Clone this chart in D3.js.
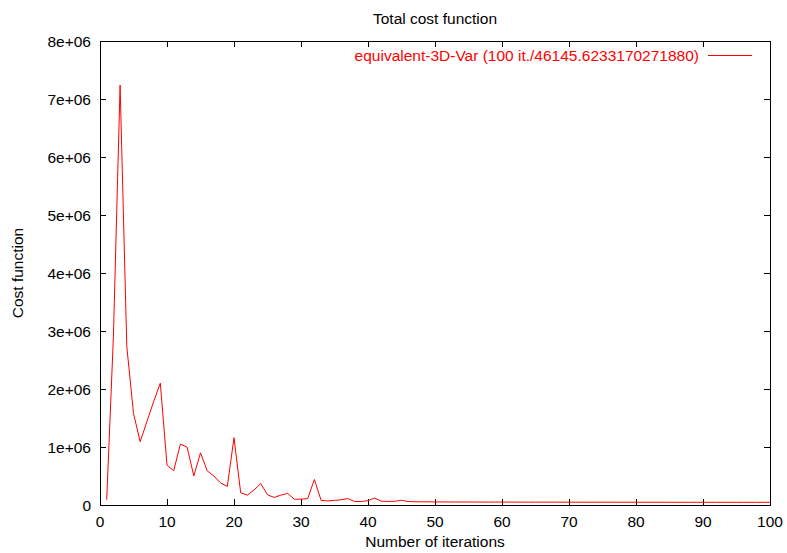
<!DOCTYPE html>
<html>
<head>
<meta charset="utf-8">
<script src="https://cdn.jsdelivr.net/npm/d3@7/dist/d3.min.js"></script>
<style>
  body { margin: 0; background: #fff; }
  text { font-family: "Liberation Sans", Arial, sans-serif; font-size: 15.5px; fill: #000; }
</style>
</head>
<body>
<script>
const iterations = d3.range(1, 101)

// cost per iteration
const costValues = [
  90000, 2900000, 7240000, 2730000, 1580000, 1090000, 1440000, 1780000, 2100000, 690000,
  590000, 1050000, 1000000, 500000, 900000, 590000, 500000, 380000, 320000, 1160000,
  210000, 170000, 260000, 370000, 175000, 130000, 170000, 200000, 100000, 100000,
  110000, 440000, 80000, 70000, 80000, 90000, 110000, 60000, 60000, 75000,
  120000, 65000, 62000, 64000, 82000, 60000, 56000, 55000, 54000, 53000,
  52500, 52000, 51800, 51500, 51300, 51000, 50800, 50600, 50400, 50200,
  50000, 49800, 49600, 49500, 49300, 49100, 49000, 48800, 48700, 48600,
  48500, 48400, 48300, 48200, 48100, 48000, 47900, 47800, 47700, 47600,
  47500, 47400, 47300, 47200, 47100, 47000, 46950, 46900, 46850, 46800,
  46700, 46600, 46550, 46500, 46450, 46400, 46300, 46250, 46200, 46145.62
]

const xTicks = [0, 10, 20, 30, 40, 50, 60, 70, 80, 90, 100]
const yTicks = [0, 1e6, 2e6, 3e6, 4e6, 5e6, 6e6, 7e6, 8e6]
const yTickLabels = ["0", "1e+06", "2e+06", "3e+06", "4e+06", "5e+06", "6e+06", "7e+06", "8e+06"]

const seriesLabel = "equivalent-3D-Var (100 it./46145.6233170271880)"

const W = 787, H = 553
const plotLeft = 100, plotRight = 770, plotTop = 41, plotBottom = 505
const tickLen = 6

const svg = d3.select("body").append("svg")
  .attr("width", W)
  .attr("height", H)

const x = d3.scaleLinear().domain([0, 100]).range([plotLeft, plotRight])
const y = d3.scaleLinear().domain([0, 8e6]).range([plotBottom, plotTop])

// frame
svg.append("rect")
  .attr("x", plotLeft + 0.5).attr("y", plotTop + 0.5)
  .attr("width", plotRight - plotLeft).attr("height", plotBottom - plotTop)
  .attr("fill", "none").attr("stroke", "#000").attr("stroke-width", 1)

// ticks, gnuplot style: inward and mirrored
const g = svg.append("g").attr("stroke", "#000").attr("stroke-width", 1)
xTicks.forEach(t => {
  const px = Math.round(x(t)) + 0.5
  g.append("line").attr("x1", px).attr("x2", px).attr("y1", plotBottom).attr("y2", plotBottom - tickLen)
  g.append("line").attr("x1", px).attr("x2", px).attr("y1", plotTop).attr("y2", plotTop + tickLen)
})
yTicks.forEach(t => {
  const py = Math.round(y(t)) + 0.5
  g.append("line").attr("x1", plotLeft).attr("x2", plotLeft + tickLen).attr("y1", py).attr("y2", py)
  g.append("line").attr("x1", plotRight).attr("x2", plotRight - tickLen).attr("y1", py).attr("y2", py)
})

svg.append("g").selectAll("text")
  .data(xTicks)
  .enter().append("text")
  .attr("x", d => x(d))
  .attr("y", 527)
  .attr("text-anchor", "middle")
  .text(d => d)

svg.append("g").selectAll("text")
  .data(yTicks)
  .enter().append("text")
  .attr("x", 91)
  .attr("y", d => y(d) + 5.5)
  .attr("text-anchor", "end")
  .text((d, i) => yTickLabels[i])

// titles
svg.append("text").attr("x", 435).attr("y", 24).attr("text-anchor", "middle").text("Total cost function")
svg.append("text").attr("x", 435).attr("y", 547).attr("text-anchor", "middle").text("Number of iterations")
svg.append("text")
  .attr("transform", "translate(23,273)rotate(-90)")
  .attr("text-anchor", "middle")
  .text("Cost function")

// series line
const line = d3.line()
  .x((d, i) => x(iterations[i]))
  .y(d => y(d))

svg.append("path")
  .datum(costValues)
  .attr("d", line)
  .attr("fill", "none")
  .attr("stroke", "#ff0000")
  .attr("stroke-width", 1)

// legend
svg.append("text")
  .attr("x", 699).attr("y", 61)
  .attr("text-anchor", "end")
  .style("fill", "#ff0000")
  .text(seriesLabel)
svg.append("line")
  .attr("x1", 708).attr("x2", 752).attr("y1", 55.5).attr("y2", 55.5)
  .attr("stroke", "#ff0000").attr("stroke-width", 1)
</script>
</body>
</html>
